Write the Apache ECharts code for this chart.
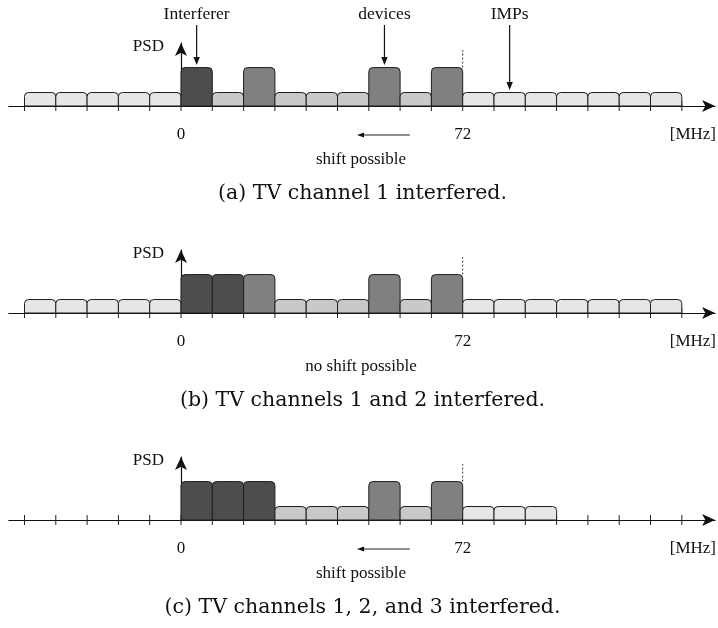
<!DOCTYPE html>
<html><head><meta charset="utf-8">
<script src="https://cdn.jsdelivr.net/npm/echarts@6/dist/echarts.min.js"></script>
<style>html,body{margin:0;padding:0;background:#fff}#c{width:718px;height:628px}</style>
</head><body><div id="c"></div>
<script>
// ---------- data ----------
const tickMHz = [-40,-32,-24,-16,-8,0,8,16,24,32,40,48,56,64,72,80,88,96,104,112,120,128];
const channelStartMHz = [-40,-32,-24,-16,-8,0,8,16,24,32,40,48,56,64,72,80,88,96,104,112,120];
const channelWidthMHz = 8;
const axisLabelMHz = [0, 72];
const unitLabel = '[MHz]';

const kindsA = ['IMP','IMP','IMP','IMP','IMP','Interferer','Free','Device','Free','Free','Free','Device','Free','Device','IMP','IMP','IMP','IMP','IMP','IMP','IMP'];
const psdA   = [1,1,1,1,1,2.85,1,2.85,1,1,1,2.85,1,2.85,1,1,1,1,1,1,1];
const kindsB = ['IMP','IMP','IMP','IMP','IMP','Interferer','Interferer','Device','Free','Free','Free','Device','Free','Device','IMP','IMP','IMP','IMP','IMP','IMP','IMP'];
const psdB   = [1,1,1,1,1,2.85,2.85,2.85,1,1,1,2.85,1,2.85,1,1,1,1,1,1,1];
const kindsC = [null,null,null,null,null,'Interferer','Interferer','Interferer','Free','Free','Free','Device','Free','Device','IMP','IMP','IMP',null,null,null,null];
const psdC   = [null,null,null,null,null,2.85,2.85,2.85,1,1,1,2.85,1,2.85,1,1,1,null,null,null,null];

const captions = ['(a) TV channel 1 interfered.', '(b) TV channels 1 and 2 interfered.', '(c) TV channels 1, 2, and 3 interfered.'];
const shiftTexts = ['shift possible', 'no shift possible', 'shift possible'];
const shiftArrow = [true, false, true];
const shiftFromMHz = 58.5, shiftToMHz = 45;
const topAnnotations = [
  {text: 'Interferer', mhz: 4,  psd: 2.85},
  {text: 'devices',    mhz: 52, psd: 2.85},
  {text: 'IMPs',       mhz: 84, psd: 1}
];
const edgeMHz = 72, edgeTopPsd = 4.15, edgeBottomPsd = 2.85;

// ---------- style / layout ----------
const KIND_COLORS = {Interferer:'#4d4d4d', Device:'#808080', Free:'#c9c9c9', IMP:'#e6e6e6'};
const PX_PER_MHZ = 3.9125, PX_PER_PSD = 13.48;
const X_MIN = -44, X_MAX = 136.5, Y_MAX = 4.67;
const axisYs = [106, 313, 520];
const zeroX = 181;
const gridLeft = zeroX + X_MIN * PX_PER_MHZ;
const gridWidth = (X_MAX - X_MIN) * PX_PER_MHZ;
const gridHeight = Y_MAX * PX_PER_PSD;
const LABEL_FONT = '"Liberation Serif", serif';
const CAP_FONT = '"DejaVu Serif", serif';

const chart = echarts.init(document.getElementById('c'));

function renderBar(params, api) {
  const x0 = api.value(0), x1 = api.value(1), v = api.value(2), k = api.value(3);
  const p0 = api.coord([x0, v]), p1 = api.coord([x1, 0]);
  return {type:'rect', shape:{x:p0[0], y:p0[1], width:p1[0]-p0[0], height:p1[1]-p0[1], r:[4,4,0,0]},
          style:{fill: KIND_COLORS[k], stroke:'#1e1e1e', lineWidth:1}};
}
function renderTick(params, api) {
  const p = api.coord([api.value(0), 0]);
  return {type:'line', shape:{x1:p[0], y1:p[1]-5, x2:p[0], y2:p[1]+5}, style:{stroke:'#222', lineWidth:1}};
}
function barData(kinds, psd) {
  const out = [];
  channelStartMHz.forEach((s, i) => { if (kinds[i]) out.push([s, s + channelWidthMHz, psd[i], kinds[i]]); });
  return out;
}
const panels = [[kindsA, psdA], [kindsB, psdB], [kindsC, psdC]];

const option = {
  animation: false,
  backgroundColor: '#fff',
  grid: axisYs.map(y => ({left: gridLeft, top: y - gridHeight, width: gridWidth, height: gridHeight})),
  xAxis: axisYs.map((y, i) => ({
    type:'value', gridIndex:i, min:X_MIN, max:X_MAX,
    axisLine:{show:true, onZero:true, symbol:['none','arrow'], symbolSize:[9,13], lineStyle:{color:'#111', width:1.2}},
    axisTick:{show:false}, axisLabel:{show:false}, splitLine:{show:false}
  })),
  yAxis: axisYs.map((y, i) => ({
    type:'value', gridIndex:i, min:0, max:Y_MAX,
    axisLine:{show:true, onZero:true, symbol:['none','arrow'], symbolSize:[9,13], lineStyle:{color:'#111', width:1.2}},
    axisTick:{show:false}, axisLabel:{show:false}, splitLine:{show:false}
  })),
  series: [].concat(
    axisYs.map((y, i) => ({type:'custom', xAxisIndex:i, yAxisIndex:i, z:1, silent:true,
      data: tickMHz.map(t => [t, 0]), encode:{x:0, y:1}, renderItem: renderTick})),
    panels.map((p, i) => ({type:'custom', xAxisIndex:i, yAxisIndex:i, z:3, silent:true,
      data: barData(p[0], p[1]), encode:{x:[0,1], y:2}, renderItem: renderBar}))
  )
};
chart.setOption(option);

// ---------- annotations positioned through the axes ----------
const px = (g, x, y) => chart.convertToPixel({gridIndex: g}, [x, y]);
function txt(x, y, text, size, font, align) {
  return {type:'text', x, y, z:10, silent:true,
    style:{text, fontSize:size, fontFamily:font, fill:'#111', align: align||'center', verticalAlign:'middle',
           textAlign: align||'center', textVerticalAlign:'middle'}};
}
const g = [];
axisYs.forEach((ay, i) => {
  const o = px(i, 0, 0);
  const top = px(i, 0, Y_MAX);
  g.push(txt(o[0] - 17, top[1] + 3, 'PSD', 17, LABEL_FONT, 'right'));
  axisLabelMHz.forEach(m => { const p = px(i, m, 0); g.push(txt(p[0], p[1] + 29, String(m), 17, LABEL_FONT, 'center')); });
  g.push(txt(716, o[1] + 29, unitLabel, 17, LABEL_FONT, 'right'));
  const d0 = px(i, edgeMHz, edgeBottomPsd), d1 = px(i, edgeMHz, edgeTopPsd);
  g.push({type:'line', z:10, silent:true, shape:{x1:d0[0], y1:d0[1], x2:d1[0], y2:d1[1]}, style:{stroke:'#333', lineWidth:1, lineDash:[2,2]}});
  if (shiftArrow[i]) {
    const a = px(i, shiftFromMHz, 0), b = px(i, shiftToMHz, 0);
    const yy = a[1] + 29;
    g.push({type:'line', z:10, silent:true, shape:{x1:a[0], y1:yy, x2:b[0]+5, y2:yy}, style:{stroke:'#222', lineWidth:1}});
    g.push({type:'polygon', z:10, silent:true, shape:{points:[[b[0], yy],[b[0]+7, yy-2.6],[b[0]+7, yy+2.6]]}, style:{fill:'#111'}});
  }
  g.push(txt(361, o[1] + 54, shiftTexts[i], 17, LABEL_FONT, 'center'));
  g.push(txt(362.5, o[1] + 88, captions[i], 20.5, CAP_FONT, 'center'));
});
topAnnotations.forEach(a => {
  const tip = px(0, a.mhz, a.psd);
  const ty = tip[1] - 2.5;
  g.push(txt(tip[0], 14, a.text, 17.5, LABEL_FONT, 'center'));
  g.push({type:'line', z:10, silent:true, shape:{x1:tip[0], y1:25, x2:tip[0], y2:ty-6}, style:{stroke:'#111', lineWidth:1.2}});
  g.push({type:'polygon', z:10, silent:true, shape:{points:[[tip[0]-3.2, ty-8],[tip[0]+3.2, ty-8],[tip[0], ty]]}, style:{fill:'#111'}});
});
chart.setOption({graphic: g});
</script>
</body></html>
